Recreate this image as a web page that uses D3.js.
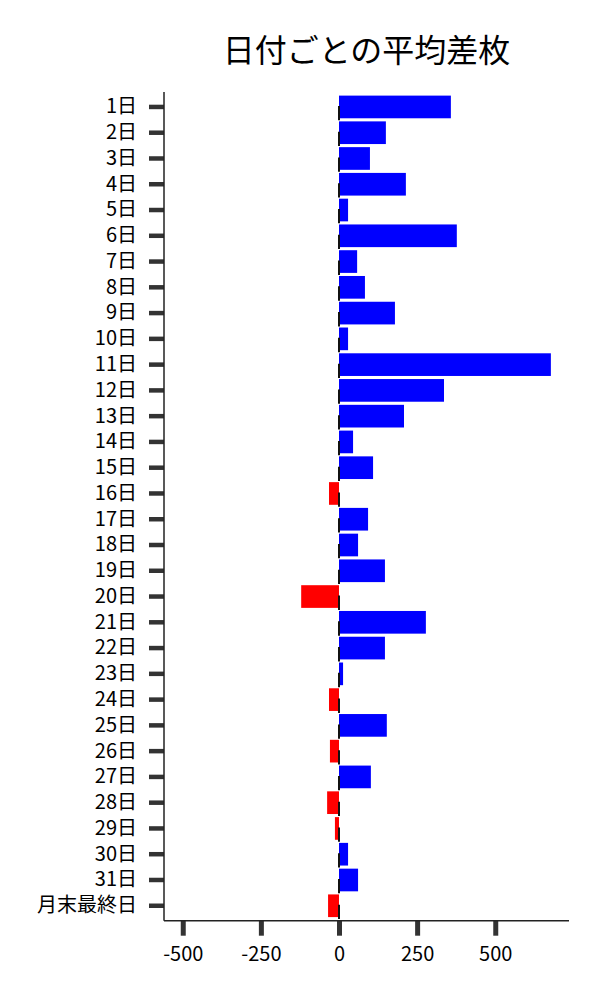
<!DOCTYPE html>
<html><head><meta charset="utf-8">
<script src="https://cdn.jsdelivr.net/npm/d3@7/dist/d3.min.js"></script>
<style>body{margin:0;background:#fff}svg{display:block}</style>
</head><body>
<script>
const categories = ["1日","2日","3日","4日","5日","6日","7日","8日","9日","10日","11日","12日","13日","14日","15日","16日","17日","18日","19日","20日","21日","22日","23日","24日","25日","26日","27日","28日","29日","30日","31日","月末最終日"];
const values = [358,150,99,214,29,377,58,83,179,29,678,336,208,45,109,-32,93,61,147,-121,278,147,13,-32,153,-29,102,-38,-13,29,61,-35];
const xTicks = [-500,-250,0,250,500];
const titleText = "日付ごとの平均差枚";

const W=600,H=1000;
const mL=164,mR=569,mT=92,mB=920.7;
const font = "'Noto Sans CJK JP','Noto Sans',sans-serif";
const svg=d3.select("body").append("svg").attr("width",W).attr("height",H);
const x=d3.scaleLinear().domain([-560,736]).range([mL,mR]);
const y=d3.scaleBand().domain(categories).range([mT,mB]).paddingInner(0.12).paddingOuter(0.14);

svg.append("text").attr("x",(mL+mR)/2).attr("y",62).attr("text-anchor","middle")
  .attr("font-family",font).attr("font-size",32).attr("fill","#000").text(titleText);

const data=categories.map((c,i)=>({c,v:values[i]}));
svg.append("g").selectAll("rect").data(data).join("rect")
  .attr("x",d=>x(Math.min(0,d.v))).attr("width",d=>Math.abs(x(d.v)-x(0)))
  .attr("y",d=>y(d.c)).attr("height",y.bandwidth())
  .attr("fill",d=>d.v>=0?"#0000ff":"#ff0000");
svg.append("g").selectAll("line").data(data).join("line")
  .attr("x1",x(0)).attr("x2",x(0))
  .attr("y1",d=>y(d.c)+y.bandwidth()/2-1).attr("y2",d=>y(d.c)+y.bandwidth()+2)
  .attr("stroke","#111").attr("stroke-width",2);

const yAxis=svg.append("g").attr("transform",`translate(${mL},0)`)
  .call(d3.axisLeft(y).tickSize(15).tickPadding(12));
yAxis.select(".domain").remove();
yAxis.selectAll(".tick line").attr("stroke","#333").attr("stroke-width",4.5);
yAxis.selectAll(".tick text").attr("font-family",font).attr("font-size",20).attr("fill","#000");

const xAxis=svg.append("g").attr("transform",`translate(0,${mB})`)
  .call(d3.axisBottom(x).tickValues(xTicks).tickFormat(d=>String(d)).tickSize(15).tickPadding(11));
xAxis.select(".domain").remove();
xAxis.selectAll(".tick line").attr("stroke","#333").attr("stroke-width",5);
xAxis.selectAll(".tick text").attr("font-family",font).attr("font-size",20).attr("fill","#000");

svg.append("line").attr("x1",mL).attr("x2",mL).attr("y1",mT).attr("y2",mB).attr("stroke","#222").attr("stroke-width",1.5);
svg.append("line").attr("x1",mL).attr("x2",mR).attr("y1",mB).attr("y2",mB).attr("stroke","#222").attr("stroke-width",1.5);
</script>
</body></html>
